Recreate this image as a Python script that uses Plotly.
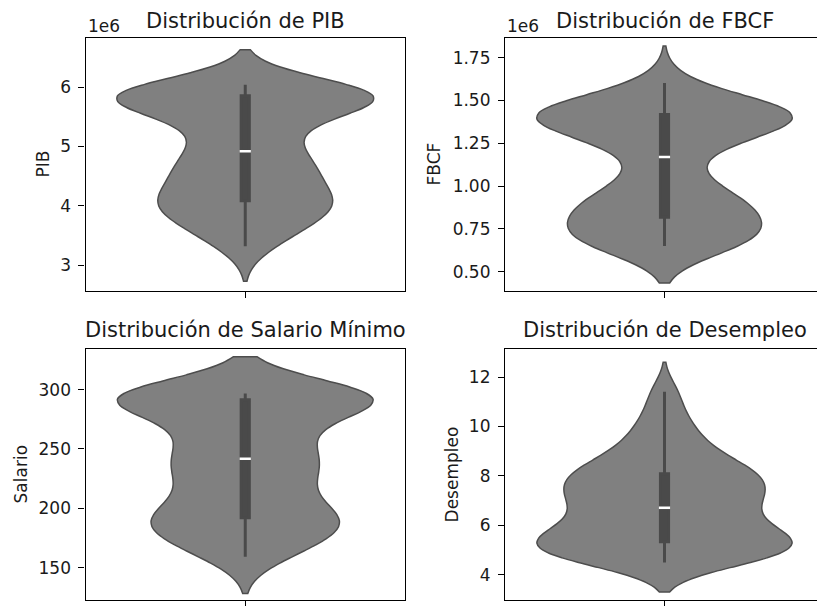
import numpy as np
import plotly.graph_objects as go

# ---------------- data ----------------
pib = [3.32e6, 3.46e6, 3.58e6, 3.69e6, 3.79e6, 3.87e6, 3.94e6, 3.99e6, 4.03e6, 4.07e6,
       4.10e6, 4.20e6, 4.30e6, 4.39e6, 4.47e6, 4.55e6, 4.63e6, 4.71e6, 4.80e6, 4.89e6,
       4.95e6, 5.14e6, 5.30e6, 5.42e6, 5.51e6, 5.58e6, 5.65e6, 5.71e6, 5.77e6, 5.83e6,
       5.875e6, 5.88e6, 5.885e6, 5.89e6, 5.895e6, 5.90e6, 5.905e6, 5.91e6, 5.92e6, 6.04e6]

fbcf = [0.651e6, 0.656e6, 0.663e6, 0.672e6, 0.684e6, 0.70e6, 0.72e6, 0.745e6, 0.775e6, 0.81e6,
        0.826e6, 0.842e6, 0.86e6, 0.88e6, 0.90e6, 0.925e6, 0.955e6, 0.99e6, 1.03e6, 1.12e6,
        1.22e6, 1.25e6, 1.28e6, 1.305e6, 1.33e6, 1.35e6, 1.37e6, 1.385e6, 1.40e6, 1.414e6,
        1.422e6, 1.426e6, 1.43e6, 1.435e6, 1.44e6, 1.446e6, 1.454e6, 1.466e6, 1.50e6, 1.601e6]

salario = [159.2, 163, 168, 173, 178, 182, 185.5, 188, 190, 191.5,
           192.5, 198, 204, 210, 216, 222, 227, 232, 236.5, 240.5,
           242.7, 248, 254, 260, 266, 272, 277, 282, 286, 289.5,
           293.5, 294.5, 295, 295.4, 295.8, 296, 296.3, 296.5, 296.6, 296.7]

desempleo = [4.5, 4.54, 4.6, 4.68, 4.78, 4.9, 5.02, 5.14, 5.24, 5.32,
             5.35, 5.45, 5.56, 5.68, 5.81, 5.95, 6.10, 6.26, 6.43, 6.61,
             6.81, 6.95, 7.08, 7.20, 7.33, 7.47, 7.62, 7.77, 7.92, 8.05,
             8.13, 8.27, 8.44, 8.65, 8.9, 9.2, 9.55, 9.98, 10.55, 11.4]

titles = ["Distribución de PIB", "Distribución de FBCF",
          "Distribución de Salario Mínimo", "Distribución de Desempleo"]
ylabels = ["PIB", "FBCF", "Salario", "Desempleo"]

pib_ticks = [3e6, 4e6, 5e6, 6e6]
pib_ticktext = ["3", "4", "5", "6"]
fbcf_ticks = [0.5e6, 0.75e6, 1.0e6, 1.25e6, 1.5e6, 1.75e6]
fbcf_ticktext = ["0.50", "0.75", "1.00", "1.25", "1.50", "1.75"]
salario_ticks = [150, 200, 250, 300]
desempleo_ticks = [4, 6, 8, 10, 12]

bandwidths = [0.295e6, 0.108e6, 15.5, 0.60]

# ---------------- styling ----------------
W, H = 817, 606
FONT = "DejaVu Sans"
FILL = "#808080"
EDGE = "#4d4d4d"
BOX = "#4a4a4a"

# pixel frames of the four axes: (left, right, top, bottom)
frames = [(85.5, 405, 38, 292), (505, 824, 38, 292),
          (85.5, 405, 350, 602), (505, 824, 350, 602)]
yranges = [[2.564e6, 6.828e6], [0.388e6, 1.865e6], [122.7, 334.3], [2.98, 13.14]]
ylabel_x = [43, 434, 21, 452]
title_shift = [3, 3, 5, 5]

datasets = [pib, fbcf, salario, desempleo]
tickvals = [pib_ticks, fbcf_ticks, salario_ticks, desempleo_ticks]
ticktexts = [pib_ticktext, fbcf_ticktext,
             [str(v) for v in salario_ticks], [str(v) for v in desempleo_ticks]]

fig = go.Figure()
layout = dict(width=W, height=H, margin=dict(l=0, r=0, t=0, b=0),
              paper_bgcolor="white", plot_bgcolor="white", showlegend=False,
              font=dict(family=FONT, size=17, color="#000000"))
annotations = []

for i, data in enumerate(datasets):
    k = "" if i == 0 else str(i + 1)
    xa, ya = "x" + k, "y" + k
    l, r, t, b = frames[i]
    xr = [-0.5, 0.5]
    xdom = [l / W, r / W]
    if r > W:
        xr = [-0.5, -0.5 + (W - l) / (r - l)]
        xdom = [l / W, 1.0]
    ydom = [1 - b / H, 1 - t / H]

    fig.add_trace(go.Violin(
        y=data, x0=0, xaxis=xa, yaxis=ya, width=0.8,
        bandwidth=bandwidths[i], spanmode="soft", points=False,
        fillcolor=FILL, opacity=1, line=dict(color=EDGE, width=1.5),
        box=dict(visible=True, width=0.032, fillcolor=BOX,
                 line=dict(color=BOX, width=3)),
        meanline=dict(visible=False), hoverinfo="skip"))
    fig.add_trace(go.Scatter(
        x=[0], y=[float(np.median(data))], xaxis=xa, yaxis=ya, mode="markers",
        marker=dict(symbol="line-ew", size=8, color="white",
                    line=dict(color="white", width=2.5)),
        hoverinfo="skip"))

    layout["xaxis" + k] = dict(domain=xdom, range=xr, anchor=ya, showgrid=False,
                               zeroline=False, showline=True, linecolor="black",
                               linewidth=1.2, mirror=True, ticks="outside",
                               ticklen=6, tickcolor="black", tickwidth=1.2,
                               tickvals=[0], ticktext=[""], fixedrange=True)
    layout["yaxis" + k] = dict(domain=ydom, range=yranges[i], anchor=xa, showgrid=False,
                               zeroline=False, showline=True, linecolor="black",
                               linewidth=1.2, mirror=(r <= W), ticks="outside",
                               ticklen=6, tickcolor="black", tickwidth=1.2,
                               tickvals=tickvals[i], ticktext=ticktexts[i],
                               tickfont=dict(family=FONT, size=17, color="#1a1a1a"),
                               ticklabelstandoff=4, fixedrange=True)

    cx = (l + r) / 2 / W
    annotations.append(dict(text=titles[i], x=cx, y=1 - t / H, xref="paper", yref="paper",
                            xanchor="center", yanchor="bottom", yshift=title_shift[i],
                            showarrow=False,
                            font=dict(family=FONT, size=21, color="#1a1a1a")))
    annotations.append(dict(text=ylabels[i], x=ylabel_x[i] / W, y=1 - (t + b) / 2 / H,
                            xref="paper", yref="paper", xanchor="center", yanchor="middle",
                            textangle=-90, showarrow=False,
                            font=dict(family=FONT, size=17, color="#1a1a1a")))
    if i < 2:
        annotations.append(dict(text="1e6", x=l / W, y=1 - t / H, xref="paper", yref="paper",
                                xanchor="left", yanchor="bottom", yshift=0, showarrow=False,
                                font=dict(family=FONT, size=17, color="#1a1a1a")))

layout["annotations"] = annotations
fig.update_layout(**layout)
fig.write_html("out.html", config={"displayModeBar": False},
               post_script="document.body.style.margin='0px';")
